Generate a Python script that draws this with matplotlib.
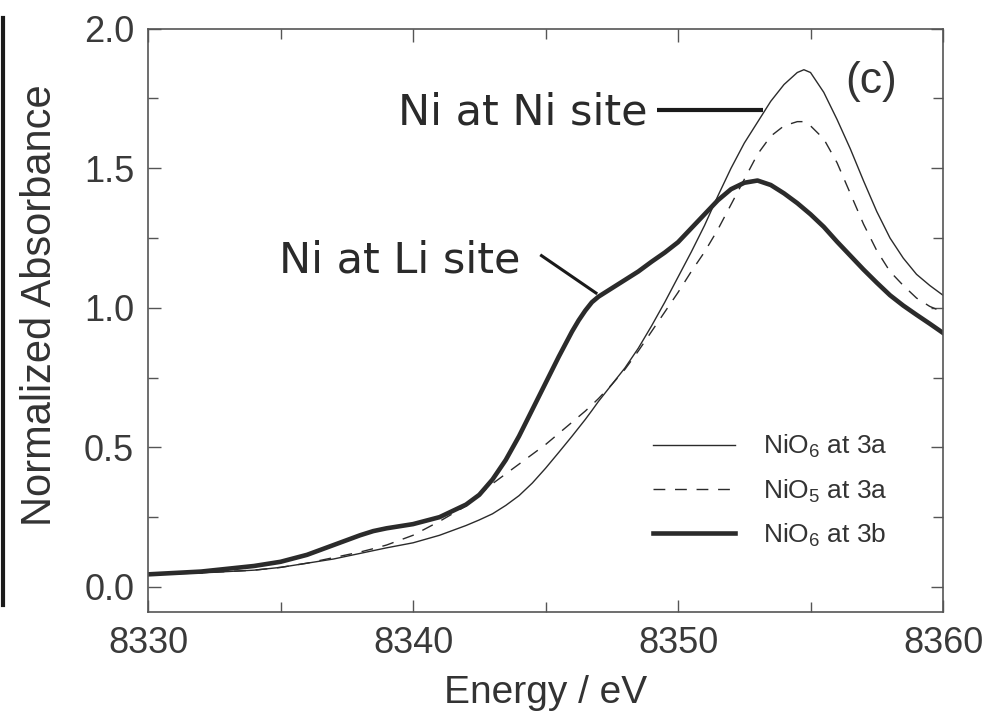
import matplotlib
matplotlib.use('Agg')
import matplotlib.pyplot as plt
from matplotlib.lines import Line2D
from matplotlib.ticker import MultipleLocator, FormatStrFormatter

# energy grid (eV)
energy = [8330, 8331, 8332, 8333, 8334, 8335, 8336, 8337, 8338, 8338.5, 8339, 8340,
          8341, 8342, 8342.5, 8343, 8343.5, 8344, 8344.5, 8345, 8345.5, 8346, 8346.25,
          8346.5, 8346.75, 8347, 8347.5, 8348, 8348.5, 8349, 8349.5, 8350, 8350.5, 8351,
          8351.5, 8352, 8352.5, 8353, 8353.5, 8354, 8354.5, 8354.75, 8355, 8355.5, 8356,
          8356.5, 8357, 8357.5, 8358, 8358.5, 8359, 8359.5, 8360]

# NiO6 at 3a (thin solid)
nio6_3a = [0.045, 0.047, 0.050, 0.055, 0.060, 0.070, 0.085, 0.100, 0.120, 0.130, 0.140, 0.158,
           0.185, 0.220, 0.240, 0.262, 0.292, 0.327, 0.372, 0.425, 0.482, 0.540, 0.570,
           0.600, 0.632, 0.665, 0.725, 0.785, 0.855, 0.935, 1.020, 1.110, 1.200, 1.295,
           1.400, 1.500, 1.590, 1.665, 1.740, 1.800, 1.843, 1.853, 1.843, 1.772, 1.675,
           1.570, 1.455, 1.345, 1.250, 1.178, 1.120, 1.080, 1.045]

# NiO5 at 3a (dashed)
nio5_3a = [0.045, 0.047, 0.050, 0.055, 0.060, 0.070, 0.085, 0.105, 0.125, 0.137, 0.150, 0.185,
           0.235, 0.290, 0.330, 0.370, 0.405, 0.440, 0.475, 0.510, 0.550, 0.590, 0.610,
           0.630, 0.652, 0.675, 0.725, 0.780, 0.845, 0.915, 0.985, 1.055, 1.130, 1.200,
           1.280, 1.370, 1.460, 1.550, 1.615, 1.652, 1.667, 1.667, 1.652, 1.605, 1.520,
           1.410, 1.300, 1.205, 1.130, 1.080, 1.035, 1.005, 0.985]

# NiO6 at 3b (thick solid)
nio6_3b = [0.045, 0.050, 0.055, 0.065, 0.075, 0.090, 0.115, 0.150, 0.185, 0.200, 0.210, 0.225,
           0.250, 0.295, 0.330, 0.385, 0.455, 0.540, 0.635, 0.730, 0.825, 0.915, 0.955,
           0.990, 1.020, 1.040, 1.070, 1.100, 1.130, 1.165, 1.198, 1.235, 1.285, 1.335,
           1.385, 1.425, 1.448, 1.456, 1.440, 1.410, 1.375, 1.355, 1.335, 1.290, 1.237,
           1.187, 1.137, 1.090, 1.045, 1.008, 0.975, 0.943, 0.910]

labels = ['NiO$_6$ at 3a', 'NiO$_5$ at 3a', 'NiO$_6$ at 3b']

# annotation text and leader lines (data coords)
ni_site_text = 'Ni at Ni site'
ni_site_xy = (8348.85, 1.70)
ni_site_leader = ([8349.2, 8353.2], [1.71, 1.71])
li_site_text = 'Ni at Li site'
li_site_xy = (8344.05, 1.17)
li_site_leader = ([8344.8, 8346.95], [1.19, 1.05])

ink = '#2b2b2b'
grey = '#555555'

plt.rcParams['font.family'] = ['Liberation Sans', 'DejaVu Sans']
plt.rcParams['mathtext.fontset'] = 'custom'
plt.rcParams['mathtext.rm'] = 'Liberation Sans'
plt.rcParams['mathtext.it'] = 'Liberation Sans'

fig = plt.figure(figsize=(9.89, 7.12), dpi=100)
ax = fig.add_axes([0.1497, 0.1404, 0.8038, 0.8193])

ax.plot(energy, nio6_3a, color=ink, lw=1.0, label=labels[0])
ax.plot(energy, nio5_3a, color=ink, lw=1.0, dashes=(8.5, 7), label=labels[1])
ax.plot(energy, nio6_3b, color=ink, lw=3.3, label=labels[2])

# leader lines
ax.plot(*ni_site_leader, color='#1a1a1a', lw=3.0, solid_capstyle='butt')
ax.plot(*li_site_leader, color='#1a1a1a', lw=2.2, solid_capstyle='butt')
ax.text(ni_site_xy[0], ni_site_xy[1], ni_site_text, ha='right', va='center',
        fontsize=31, color='#2a2a2a', family='DejaVu Sans')
ax.text(li_site_xy[0], li_site_xy[1], li_site_text, ha='right', va='center',
        fontsize=31, color='#2a2a2a', family='DejaVu Sans')
ax.text(8357.3, 1.81, '(c)', ha='center', va='center', fontsize=32, color='#333333')

ax.set_xlim(8330, 8360)
ax.set_ylim(-0.09, 2.0)
ax.xaxis.set_major_locator(MultipleLocator(10))
ax.xaxis.set_minor_locator(MultipleLocator(5))
ax.yaxis.set_major_locator(MultipleLocator(0.5))
ax.yaxis.set_minor_locator(MultipleLocator(0.25))
ax.yaxis.set_major_formatter(FormatStrFormatter('%.1f'))
ax.tick_params(which='both', direction='in', top=True, right=True, color=grey,
               width=1.0, labelcolor='#3a3a3a', labelsize=26)
ax.tick_params(which='major', length=9, pad=10)
ax.tick_params(which='minor', length=7)
for s in ax.spines.values():
    s.set_color(grey)
    s.set_linewidth(1.2)

ax.set_xlabel('Energy / eV', fontsize=28, color='#333333', labelpad=10)
ax.set_ylabel('Normalized Absorbance', fontsize=30, color='#333333', labelpad=17, y=0.526)

leg = ax.legend(loc='upper left', bbox_to_anchor=(0.622, 0.325), frameon=False,
                fontsize=19, handlelength=3.1, handletextpad=1.05, labelspacing=0.65,
                borderaxespad=0)
for t in leg.get_texts():
    t.set_color('#333333')

# dark edge left over from the neighbouring panel
fig.add_artist(Line2D([0.003, 0.003], [0.15, 0.975], color='#1a1a1a', lw=3))

fig.savefig('out.png', dpi=100)
plt.close('all')
